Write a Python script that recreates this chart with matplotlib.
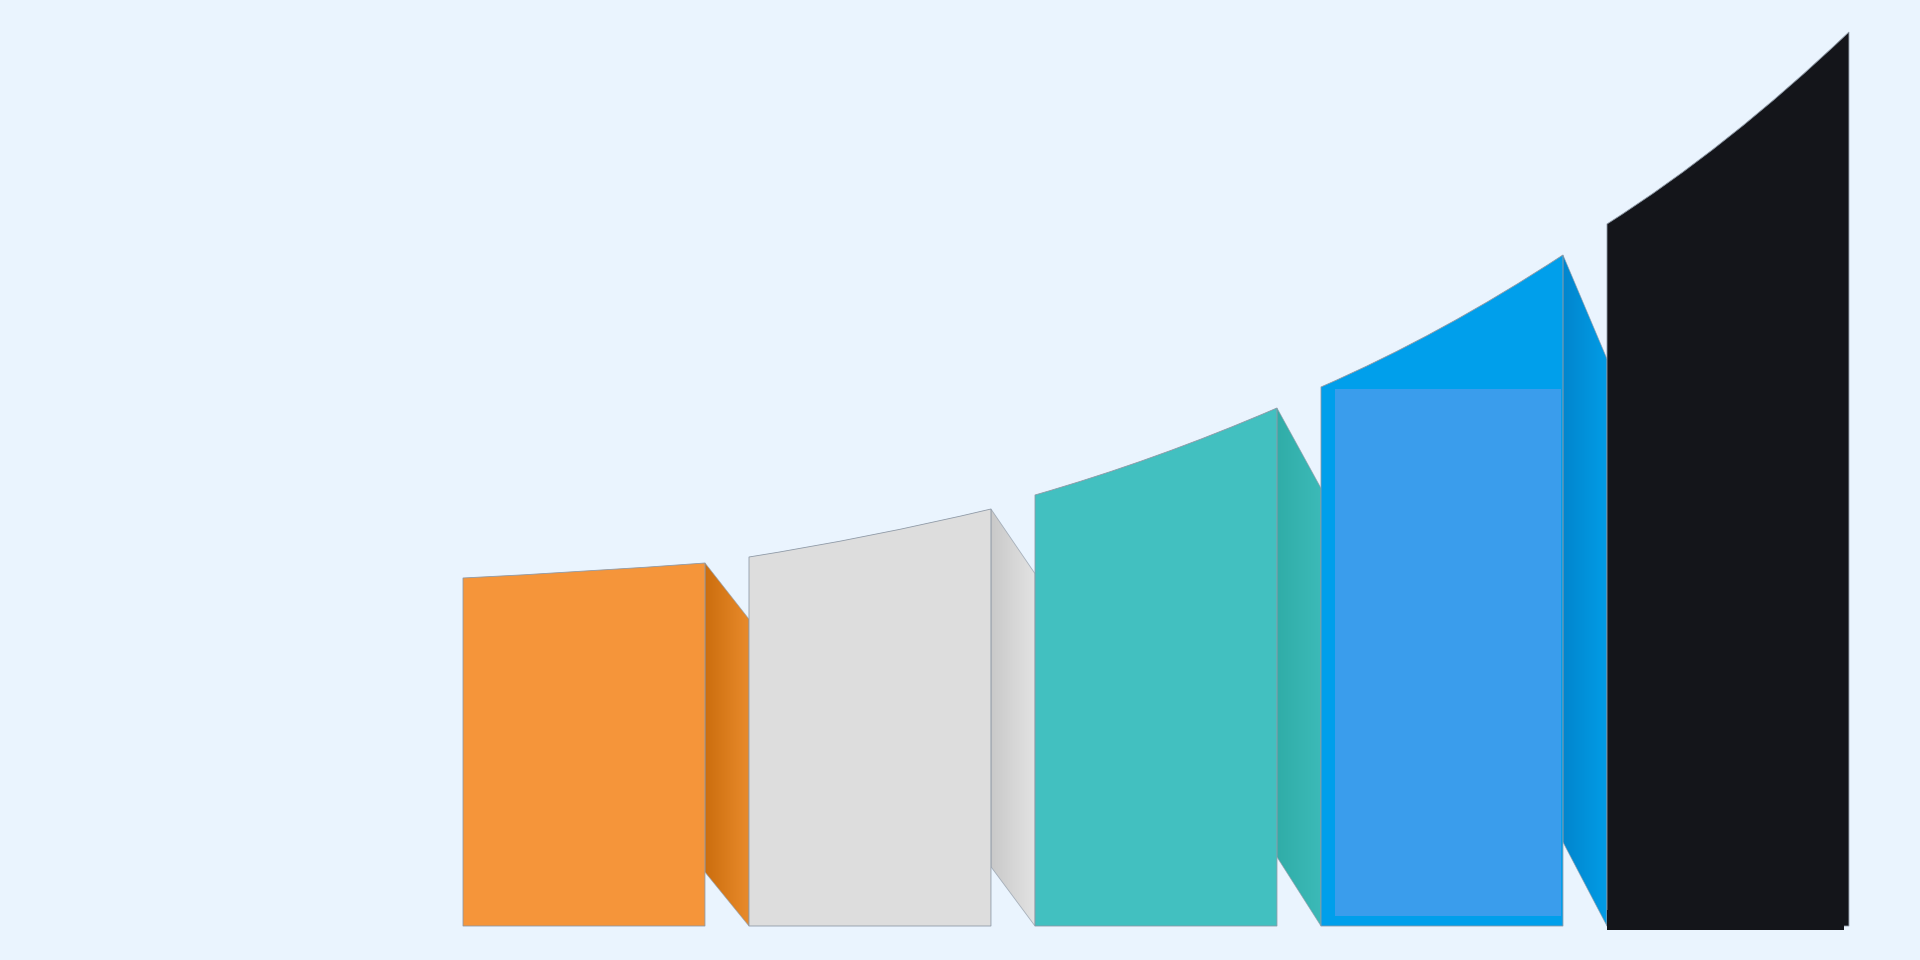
"""
Curved, folded column chart (no axes, no labels)
"""

import numpy as np
import matplotlib
matplotlib.use("Agg")
import matplotlib.pyplot as plt
from matplotlib.path import Path
from matplotlib.patches import PathPatch, Polygon, Rectangle
from matplotlib.colors import LinearSegmentedColormap

################################################################################
#
# data (y in value units, 0 = baseline)
categories = ["A", "B", "C", "D", "E"]
left_values = [348, 369, 431, 539, 702]
right_values = [363, 417, 518, 671, 894]

bar_colors = ["#F5953A", "#DDDDDD", "#42C0C0", "#009FEB", "#14151A"]
fold_dark = ["#CC6E0E", "#C9C9C9", "#30ADA8", "#0286CE"]
fold_light = ["#E98B2C", "#E3E3E3", "#3CBAB8", "#019CE6"]

bg = "#EAF4FE"
edge = "#8E99A6"

################################################################################
#
# geometry in category units
bar_w = 0.846
fold_w = 1 - bar_w

fig = plt.figure(figsize=(19.2, 9.6), dpi=100, facecolor=bg)
ax = fig.add_axes([0, 0, 1, 1])
ax.set_facecolor(bg)
ax.set_xlim(-463 / 286, 1457 / 286)
ax.set_ylim(-34, 926)
ax.axis("off")


def top_path(x0, x1, h0, h1):
    # bar outline with a gently curved top (quadratic bezier)
    c = h0 + 0.4 * (h1 - h0)
    verts = [(x0, 0), (x0, h0), ((x0 + x1) / 2, c), (x1, h1), (x1, 0), (x0, 0)]
    codes = [Path.MOVETO, Path.LINETO, Path.CURVE3, Path.CURVE3,
             Path.LINETO, Path.CLOSEPOLY]
    return Path(verts, codes)


for i, cat in enumerate(categories):
    x0 = i
    x1 = i + bar_w
    h0 = left_values[i]
    h1 = right_values[i]

    # folded side panel to the next column
    if i < len(categories) - 1:
        fx = x1 + fold_w
        ftop = 0.845 * h1
        fbot = 18.6 + 0.0974 * h1
        poly = Polygon([(x1, h1), (fx, ftop), (fx, 0), (x1, fbot)],
                       closed=True, facecolor="none", edgecolor=edge,
                       lw=0.6, alpha=0.7, zorder=2)
        ax.add_patch(poly)
        cmap = LinearSegmentedColormap.from_list("f", [fold_dark[i], fold_light[i]])
        grad = np.linspace(0, 1, 64).reshape(1, -1)
        im = ax.imshow(grad, cmap=cmap, aspect="auto",
                       extent=(x1, fx, 0, h1), zorder=1.5)
        im.set_clip_path(poly)

    # main column
    ax.add_patch(PathPatch(top_path(x0, x1, h0, h1), facecolor=bar_colors[i],
                           edgecolor=edge, lw=0.6, zorder=3))

# highlighted (hover) state on the blue column
ax.add_patch(Rectangle((3 + 14 / 286, 10), bar_w - 16 / 286, left_values[3] - 12,
                       facecolor="#3A9DEC", edgecolor="none", zorder=3.5))

# slightly enlarged dark column
ax.add_patch(Rectangle((4, -4), bar_w - 5 / 286, 20,
                       facecolor=bar_colors[4], edgecolor="none", zorder=3.1))

plt.savefig("out.png", dpi=100, facecolor=bg)
